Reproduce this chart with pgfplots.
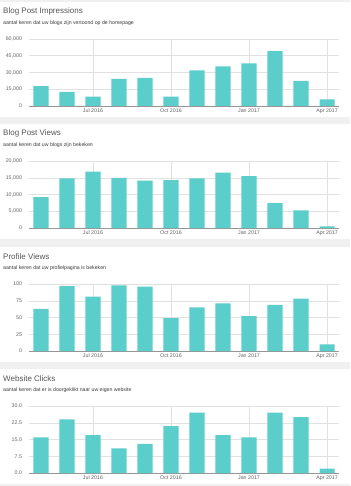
\documentclass[border=0pt]{standalone}
\usepackage{pgfplots}
\pgfplotsset{compat=1.18}
\usepackage{fontspec}
\setmainfont{Liberation Sans}
\definecolor{bgray}{RGB}{240,240,240}
\definecolor{barcol}{RGB}{91,206,204}
\definecolor{titlegray}{RGB}{85,85,85}
\definecolor{subgray}{RGB}{60,60,60}
\definecolor{tickgray}{RGB}{100,100,100}
\definecolor{gridgray}{RGB}{225,225,225}
\definecolor{axisgray}{RGB}{150,150,150}
\pgfplotsset{panel/.style={
  at={(29pt,#1)}, anchor=south west, scale only axis, width=310pt, height=67pt,
  xmin=-0.46, xmax=11.46, ymin=0, enlargelimits=false,
  axis x line=bottom, axis y line=left, axis line style={-},
  y axis line style={draw=none}, x axis line style={draw=axisgray},
  xtick={2,5,8,11}, xticklabels={Jul 2016,Oct 2016,Jan 2017,Apr 2017},
  major tick length=0pt,
  xmajorgrids, ymajorgrids, grid style={gridgray, line width=0.5pt},
  tick label style={font=\fontsize{5.3}{6}\selectfont, text=tickgray},
  /pgf/number format/assume math mode=true,
  yticklabel style={xshift=-3.5pt},
  xticklabel style={yshift=1.2pt},
  scaled y ticks=false,
  ybar, bar width=0.58,
}}
\newcommand{\paneltitle}[3]{%
  \fill[white] (0pt,-#1pt) rectangle (350pt,-#1pt-115pt);
  \node[anchor=west, inner sep=0pt, font=\fontsize{8}{9}\selectfont, text=titlegray] at (3pt,-#1pt-9.5pt) {#2};
  \node[anchor=west, inner sep=0pt, font=\fontsize{5.2}{6}\selectfont, text=subgray] at (3pt,-#1pt-21pt) {#3};
}
\begin{document}
\begin{tikzpicture}
\useasboundingbox (0pt,0pt) rectangle (350pt,-486pt);
\fill[bgray] (0pt,0pt) rectangle (350pt,-486pt);
\paneltitle{2}{Blog Post Impressions}{aantal keren dat uw blogs zijn vertoond op de homepage}
\paneltitle{124}{Blog Post Views}{aantal keren dat uw blogs zijn bekeken}
\paneltitle{247}{Profile Views}{aantal keren dat uw profielpagina is bekeken}
\paneltitle{369}{Website Clicks}{aantal keren dat er is doorgeklikt naar uw eigen website}

\begin{axis}[panel={-106pt}, ymax=60000, ytick={0,15000,30000,45000,60000},
  /pgf/number format/.cd, fixed, 1000 sep={,}]
\addplot[fill=barcol, draw=none] coordinates {(0,17700) (1,12600) (2,8400) (3,24300) (4,25200) (5,8400) (6,31800) (7,35400) (8,38100) (9,49200) (10,22500) (11,6000)};
\end{axis}

\begin{axis}[panel={-228pt}, ymax=20000, ytick={0,5000,10000,15000,20000},
  /pgf/number format/.cd, fixed, 1000 sep={,}]
\addplot[fill=barcol, draw=none] coordinates {(0,9200) (1,14850) (2,16830) (3,14950) (4,14160) (5,14260) (6,14850) (7,16530) (8,15450) (9,7430) (10,5250) (11,500)};
\end{axis}

\begin{axis}[panel={-351pt}, ymax=100, ytick={0,25,50,75,100}]
\addplot[fill=barcol, draw=none] coordinates {(0,63) (1,97) (2,81) (3,98) (4,96) (5,49) (6,65) (7,71) (8,52) (9,69) (10,78) (11,10)};
\end{axis}

\begin{axis}[panel={-473pt}, ymax=30, ytick={0,7.5,15,22.5,30},
  /pgf/number format/.cd, fixed, fixed zerofill, precision=1]
\addplot[fill=barcol, draw=none] coordinates {(0,16) (1,24) (2,17) (3,11) (4,13) (5,21) (6,27) (7,17) (8,16) (9,27) (10,25) (11,2)};
\end{axis}
\end{tikzpicture}
\end{document}
